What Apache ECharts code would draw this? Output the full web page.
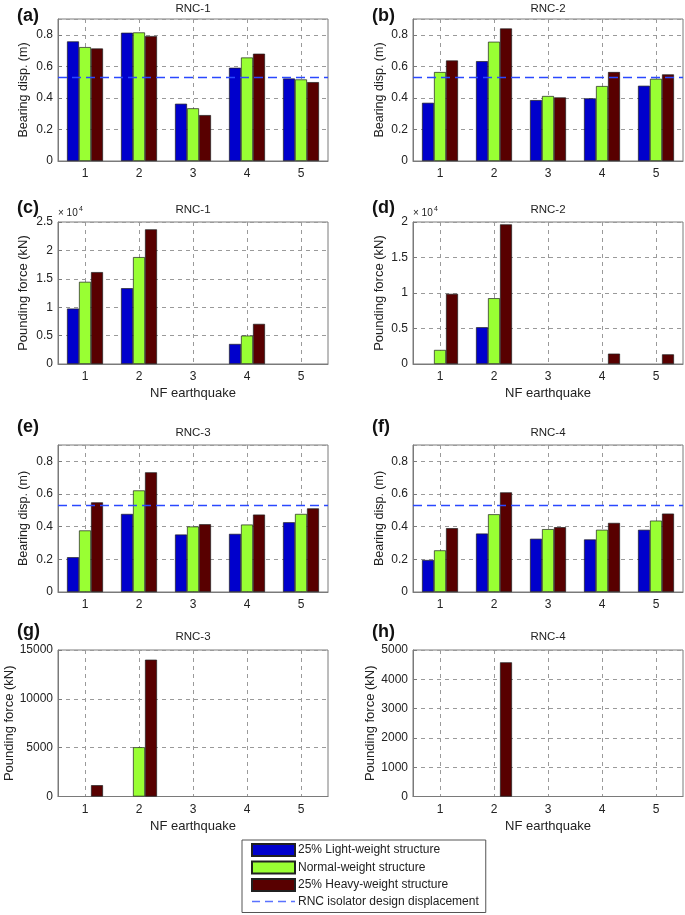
<!DOCTYPE html>
<html><head><meta charset="utf-8">
<script src="https://cdn.jsdelivr.net/npm/echarts@6/dist/echarts.min.js"></script>
<style>html,body{margin:0;padding:0;background:#fff}#c{width:685px;height:915px}</style>
</head><body><div id="c"></div>
<script>
// ---------- data ----------
const categories = ['1', '2', '3', '4', '5'];
const seriesNames = ['25% Light-weight structure', 'Normal-weight structure', '25% Heavy-weight structure'];
const designName = 'RNC isolator design displacement';
const designDisp = 0.53;
const xAxisName = 'NF earthquake';
const dispAxisName = 'Bearing disp. (m)';
const forceAxisName = 'Pounding force (kN)';

// (a) RNC-1 bearing displacement (m)
const dispRNC1Light  = [0.758, 0.813, 0.363, 0.591, 0.523];
const dispRNC1Normal = [0.722, 0.815, 0.334, 0.656, 0.517];
const dispRNC1Heavy  = [0.713, 0.792, 0.291, 0.680, 0.500];
// (b) RNC-2 bearing displacement (m)
const dispRNC2Light  = [0.369, 0.633, 0.386, 0.397, 0.477];
const dispRNC2Normal = [0.564, 0.756, 0.412, 0.475, 0.521];
const dispRNC2Heavy  = [0.637, 0.840, 0.403, 0.564, 0.549];
// (c) RNC-1 pounding force (kN)
const forceRNC1Light  = [9760, 13350, 0, 3530, 0];
const forceRNC1Normal = [14470, 18820, 0, 5000, 0];
const forceRNC1Heavy  = [16180, 23710, 0, 7060, 0];
// (d) RNC-2 pounding force (kN)
const forceRNC2Light  = [0, 5180, 0, 0, 0];
const forceRNC2Normal = [1980, 9270, 0, 0, 0];
const forceRNC2Heavy  = [9880, 19670, 0, 1460, 1360];
// (e) RNC-3 bearing displacement (m)
const dispRNC3Light  = [0.213, 0.478, 0.352, 0.356, 0.427];
const dispRNC3Normal = [0.377, 0.622, 0.401, 0.413, 0.478];
const dispRNC3Heavy  = [0.549, 0.733, 0.415, 0.474, 0.512];
// (f) RNC-4 bearing displacement (m)
const dispRNC4Light  = [0.196, 0.358, 0.326, 0.322, 0.381];
const dispRNC4Normal = [0.255, 0.476, 0.385, 0.381, 0.437];
const dispRNC4Heavy  = [0.391, 0.610, 0.397, 0.423, 0.480];
// (g) RNC-3 pounding force (kN)
const forceRNC3Light  = [0, 0, 0, 0, 0];
const forceRNC3Normal = [0, 5045, 0, 0, 0];
const forceRNC3Heavy  = [1160, 14010, 0, 0, 0];
// (h) RNC-4 pounding force (kN)
const forceRNC4Light  = [0, 0, 0, 0, 0];
const forceRNC4Normal = [0, 0, 0, 0, 0];
const forceRNC4Heavy  = [0, 4580, 0, 0, 0];

// ---------- layout / style ----------
const FONT = 'Liberation Sans, Arial, Helvetica, sans-serif';
const colors = ['#0000cc', '#99ff33', '#580000'];
const designColor = '#2a48ff';
const frame = '#7a7a7a';
const gridDash = '#9a9a9a';
const colLeft = [58, 413];
const plotW = 270;
const rowTop = [19, 222, 445, 650];
const rowH = [142, 142, 147, 146.5];

const panels = [
  {lab:'(a)', title:'RNC-1', col:0, row:0, kind:'disp', data:[dispRNC1Light, dispRNC1Normal, dispRNC1Heavy], max:0.9, interval:0.2, nameGap:28, titleY:9, labY:16},
  {lab:'(b)', title:'RNC-2', col:1, row:0, kind:'disp', data:[dispRNC2Light, dispRNC2Normal, dispRNC2Heavy], max:0.9, interval:0.2, nameGap:27, titleY:9, labY:16},
  {lab:'(c)', title:'RNC-1', col:0, row:1, kind:'force', data:[forceRNC1Light, forceRNC1Normal, forceRNC1Heavy], max:25000, interval:5000, scale:1e4, nameGap:28, titleY:210, labY:208},
  {lab:'(d)', title:'RNC-2', col:1, row:1, kind:'force', data:[forceRNC2Light, forceRNC2Normal, forceRNC2Heavy], max:20000, interval:5000, scale:1e4, nameGap:27, titleY:210, labY:208},
  {lab:'(e)', title:'RNC-3', col:0, row:2, kind:'disp', data:[dispRNC3Light, dispRNC3Normal, dispRNC3Heavy], max:0.9, interval:0.2, nameGap:28, titleY:433, labY:427},
  {lab:'(f)', title:'RNC-4', col:1, row:2, kind:'disp', data:[dispRNC4Light, dispRNC4Normal, dispRNC4Heavy], max:0.9, interval:0.2, nameGap:27, titleY:433, labY:427},
  {lab:'(g)', title:'RNC-3', col:0, row:3, kind:'force', data:[forceRNC3Light, forceRNC3Normal, forceRNC3Heavy], max:15000, interval:5000, nameGap:42, titleY:637, labY:631},
  {lab:'(h)', title:'RNC-4', col:1, row:3, kind:'force', data:[forceRNC4Light, forceRNC4Normal, forceRNC4Heavy], max:5000, interval:1000, nameGap:36, titleY:637, labY:632}
];

const helperCats = Array.from({length: 11}, () => '');

const grids = [], xAxes = [], yAxes = [], series = [], graphics = [];
panels.forEach((p, i) => {
  const left = colLeft[p.col], top = rowTop[p.row], h = rowH[p.row];
  grids.push({left: left, top: top, width: plotW, height: h, show: true, borderColor: frame, borderWidth: 1, backgroundColor: '#fff'});
  const hasXName = p.kind === 'force';
  xAxes.push({
    type: 'category', gridIndex: i, data: categories, position: 'bottom',
    axisLine: {lineStyle: {color: frame}},
    axisTick: {inside: true, alignWithLabel: true, length: 4, lineStyle: {color: frame}},
    axisLabel: {color: '#222', fontSize: 12, fontFamily: FONT, margin: 7},
    splitLine: {show: false},
    name: hasXName ? xAxisName : '', nameLocation: 'middle', nameGap: 23,
    nameTextStyle: {color: '#222', fontSize: 13, fontFamily: FONT}
  });
  xAxes.push({
    type: 'category', gridIndex: i, data: helperCats, boundaryGap: false, position: 'top',
    axisLine: {show: false}, axisTick: {show: false}, axisLabel: {show: false},
    splitLine: {show: true, interval: (idx) => idx % 2 === 1, lineStyle: {color: gridDash, type: [4, 4], width: 1}}
  });
  yAxes.push({
    type: 'value', gridIndex: i, min: 0, max: p.max, interval: p.interval,
    axisLine: {show: true, lineStyle: {color: frame}},
    axisTick: {show: true, inside: true, length: 4, lineStyle: {color: frame}},
    axisLabel: {color: '#222', fontSize: 12, fontFamily: FONT, margin: 5, showMaxLabel: p.max % p.interval === 0,
      formatter: (v) => p.scale ? String(+(v / p.scale).toFixed(2)) : String(+v.toFixed(2))},
    splitLine: {show: true, lineStyle: {color: gridDash, type: [4, 4], width: 1}},
    name: p.kind === 'disp' ? dispAxisName : forceAxisName, nameLocation: 'middle', nameGap: p.nameGap,
    nameTextStyle: {color: '#222', fontSize: p.kind === 'disp' ? 12.5 : 13, fontFamily: FONT}
  });
  p.data.forEach((arr, k) => {
    series.push({
      type: 'bar', name: seriesNames[k], xAxisIndex: 2 * i, yAxisIndex: i,
      data: arr.map(v => (v === 0 ? null : v)),
      barWidth: 12, barGap: '0%',
      itemStyle: {color: colors[k], borderColor: '#202020', borderWidth: 0.7},
      emphasis: {disabled: true}, z: 2
    });
  });
  if (p.kind === 'disp') {
    series.push({
      type: 'line', name: designName, xAxisIndex: 2 * i, yAxisIndex: i, data: [],
      symbol: 'none', lineStyle: {color: designColor, type: [9, 5], width: 1.3}, itemStyle: {color: designColor},
      z: 5,
      markLine: {silent: true, symbol: 'none', label: {show: false}, animation: false,
        lineStyle: {color: designColor, type: [9, 5], width: 1.3}, data: [{yAxis: designDisp}]}
    });
  }
  graphics.push({type: 'text', x: left + plotW / 2, y: p.titleY, style: {text: p.title, fill: '#222', font: '11.5px ' + FONT, textAlign: 'center', textVerticalAlign: 'middle'}});
  graphics.push({type: 'text', x: p.col === 0 ? 17 : 372, y: p.labY, style: {text: p.lab, fill: '#111', font: 'bold 18px ' + FONT, textAlign: 'left', textVerticalAlign: 'middle'}});
  if (p.scale) {
    graphics.push({type: 'text', x: left, y: top - 9, style: {text: '× 10', fill: '#222', font: '10px ' + FONT, textAlign: 'left', textVerticalAlign: 'middle'}});
    graphics.push({type: 'text', x: left + 21, y: top - 13, style: {text: '4', fill: '#222', font: '7px ' + FONT, textAlign: 'left', textVerticalAlign: 'middle'}});
  }
});

const chart = echarts.init(document.getElementById('c'), null, {renderer: 'canvas'});
chart.setOption({
  animation: false,
  backgroundColor: '#fff',
  grid: grids, xAxis: xAxes, yAxis: yAxes, series: series, graphic: graphics,
  legend: {
    data: [
      {name: seriesNames[0], icon: 'rect'},
      {name: seriesNames[1], icon: 'rect'},
      {name: seriesNames[2], icon: 'rect'},
      {name: designName, itemStyle: {opacity: 0}, lineStyle: {color: '#5a72ff', width: 1.5, type: [8, 5]}}
    ],
    orient: 'vertical', left: 242, top: 840, height: 120,
    itemWidth: 43, itemHeight: 12, itemGap: 3.5,
    padding: [3, 7, 5, 9],
    borderColor: '#555', borderWidth: 1, backgroundColor: '#fff',
    textStyle: {color: '#222', fontSize: 12, lineHeight: 12, fontFamily: FONT, padding: [0, 0, 0, -2]},
    selectedMode: false
  }
});
</script>
</body></html>
